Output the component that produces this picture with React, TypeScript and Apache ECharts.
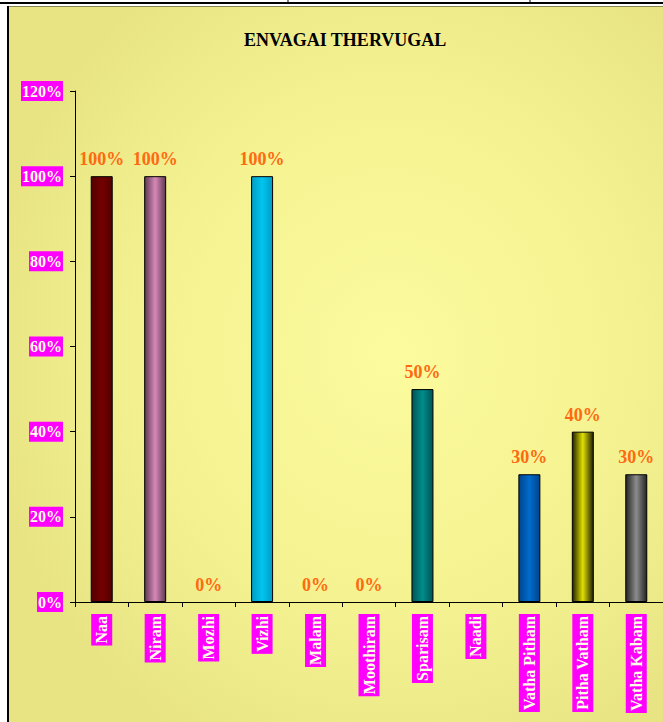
import React, { useEffect, useRef } from "react";
import * as echarts from "echarts";

const categories = [
  "Naa",
  "Niram",
  "Mozhi",
  "Vizhi",
  "Malam",
  "Moothiram",
  "Sparisam",
  "Naadi",
  "Vatha Pitham",
  "Pitha Vatham",
  "Vatha Kabam",
];

// fraction values (1 = 100%); Naadi shows no value
const values: (number | null)[] = [1, 1, 0, 1, 0, 0, 0.5, null, 0.3, 0.4, 0.3];

const yTicks = { min: 0, max: 1.2, interval: 0.2 };

const barEdgeColors = [
  "#520000",
  "#5E3A50",
  "#888888",
  "#009CC4",
  "#888888",
  "#888888",
  "#005454",
  "#888888",
  "#00448E",
  "#202000",
  "#242424",
];
const barCenterColors = [
  "#740000",
  "#D888B8",
  "#888888",
  "#00C6F0",
  "#888888",
  "#888888",
  "#008C8C",
  "#888888",
  "#006CCC",
  "#E0E000",
  "#8C8C8C",
];

const SERIF = "'Liberation Serif', 'Times New Roman', Times, serif";

export default function App() {
  const ref = useRef<HTMLDivElement>(null);

  useEffect(() => {
    if (!ref.current) return;
    const chart = echarts.init(ref.current, undefined, { renderer: "svg" });

    const data = values.map((v, i) => ({
      value: v,
      itemStyle: {
        borderWidth: v ? 1 : 0,
        color: v
          ? new echarts.graphic.LinearGradient(0, 0, 1, 0, [
              { offset: 0, color: barEdgeColors[i] },
              { offset: 0.5, color: barCenterColors[i] },
              { offset: 1, color: barEdgeColors[i] },
            ])
          : "transparent",
      },
    }));

    chart.setOption({
      animation: false,
      backgroundColor: "#ffffff",
      graphic: [
        {
          type: "rect",
          z: -100,
          silent: true,
          shape: { x: 9, y: 7, width: 660, height: 720 },
          style: {
            fill: new echarts.graphic.RadialGradient(0.58, 0.48, 0.62, [
              { offset: 0, color: "#FCFB9E" },
              { offset: 0.6, color: "#F4F290" },
              { offset: 1, color: "#E8E484" },
            ]),
          },
        },
        {
          type: "line",
          z: -99,
          silent: true,
          shape: { x1: 0, y1: 3, x2: 663, y2: 3 },
          style: { stroke: "#000", lineWidth: 2 },
        },
        {
          type: "line",
          z: -99,
          silent: true,
          shape: { x1: 9, y1: 6.5, x2: 663, y2: 6.5 },
          style: { stroke: "#8A8650", lineWidth: 1 },
        },
        {
          type: "line",
          z: -99,
          silent: true,
          shape: { x1: 288, y1: 0, x2: 288, y2: 3 },
          style: { stroke: "#000", lineWidth: 1 },
        },
        {
          type: "line",
          z: -99,
          silent: true,
          shape: { x1: 530, y1: 0, x2: 530, y2: 3 },
          style: { stroke: "#000", lineWidth: 1 },
        },
        {
          type: "line",
          z: -99,
          silent: true,
          shape: { x1: 8, y1: 6, x2: 8, y2: 722 },
          style: { stroke: "#000", lineWidth: 2 },
        },
      ],
      title: {
        text: "ENVAGAI THERVUGAL",
        left: 239,
        top: 26,
        textStyle: {
          fontFamily: SERIF,
          fontWeight: "bold",
          fontSize: 18,
          color: "#000",
        },
      },
      grid: { left: 75, top: 91, bottom: 120, right: -6, containLabel: false },
      xAxis: {
        type: "category",
        data: categories,
        axisLine: { show: true, lineStyle: { color: "#000", width: 1 } },
        axisTick: { show: true, length: 5, lineStyle: { color: "#000" } },
        axisLabel: {
          rotate: 90,
          interval: 0,
          margin: 12,
          fontFamily: SERIF,
          fontWeight: "bold",
          fontSize: 16,
          lineHeight: 17,
          color: "#FFFFE6",
          backgroundColor: "#FF00FF",
          padding: [2, 2],
        },
      },
      yAxis: {
        type: "value",
        min: yTicks.min,
        max: yTicks.max,
        interval: yTicks.interval,
        axisLine: { show: true, lineStyle: { color: "#000", width: 1 } },
        axisTick: { show: true, length: 5, lineStyle: { color: "#000" } },
        splitLine: { show: false },
        axisLabel: {
          margin: 12,
          formatter: (v: number) => Math.round(v * 100) + "%",
          fontFamily: SERIF,
          fontWeight: "bold",
          fontSize: 16,
          lineHeight: 16,
          color: "#FFFFE6",
          backgroundColor: "#FF00FF",
          padding: [2, 1],
        },
      },
      series: [
        {
          type: "bar",
          data,
          barWidth: 22,
          itemStyle: { borderColor: "#000" },
          label: {
            show: true,
            position: "top",
            distance: 8,
            formatter: (p: any) =>
              p.value == null ? "" : Math.round(p.value * 100) + "%",
            fontFamily: SERIF,
            fontWeight: "bold",
            fontSize: 18,
            color: "#FF6A10",
          },
        },
      ],
    });

    return () => chart.dispose();
  }, []);

  return (
    <div
      ref={ref}
      style={{ position: "absolute", left: 0, top: 0, width: 663, height: 722 }}
    />
  );
}
